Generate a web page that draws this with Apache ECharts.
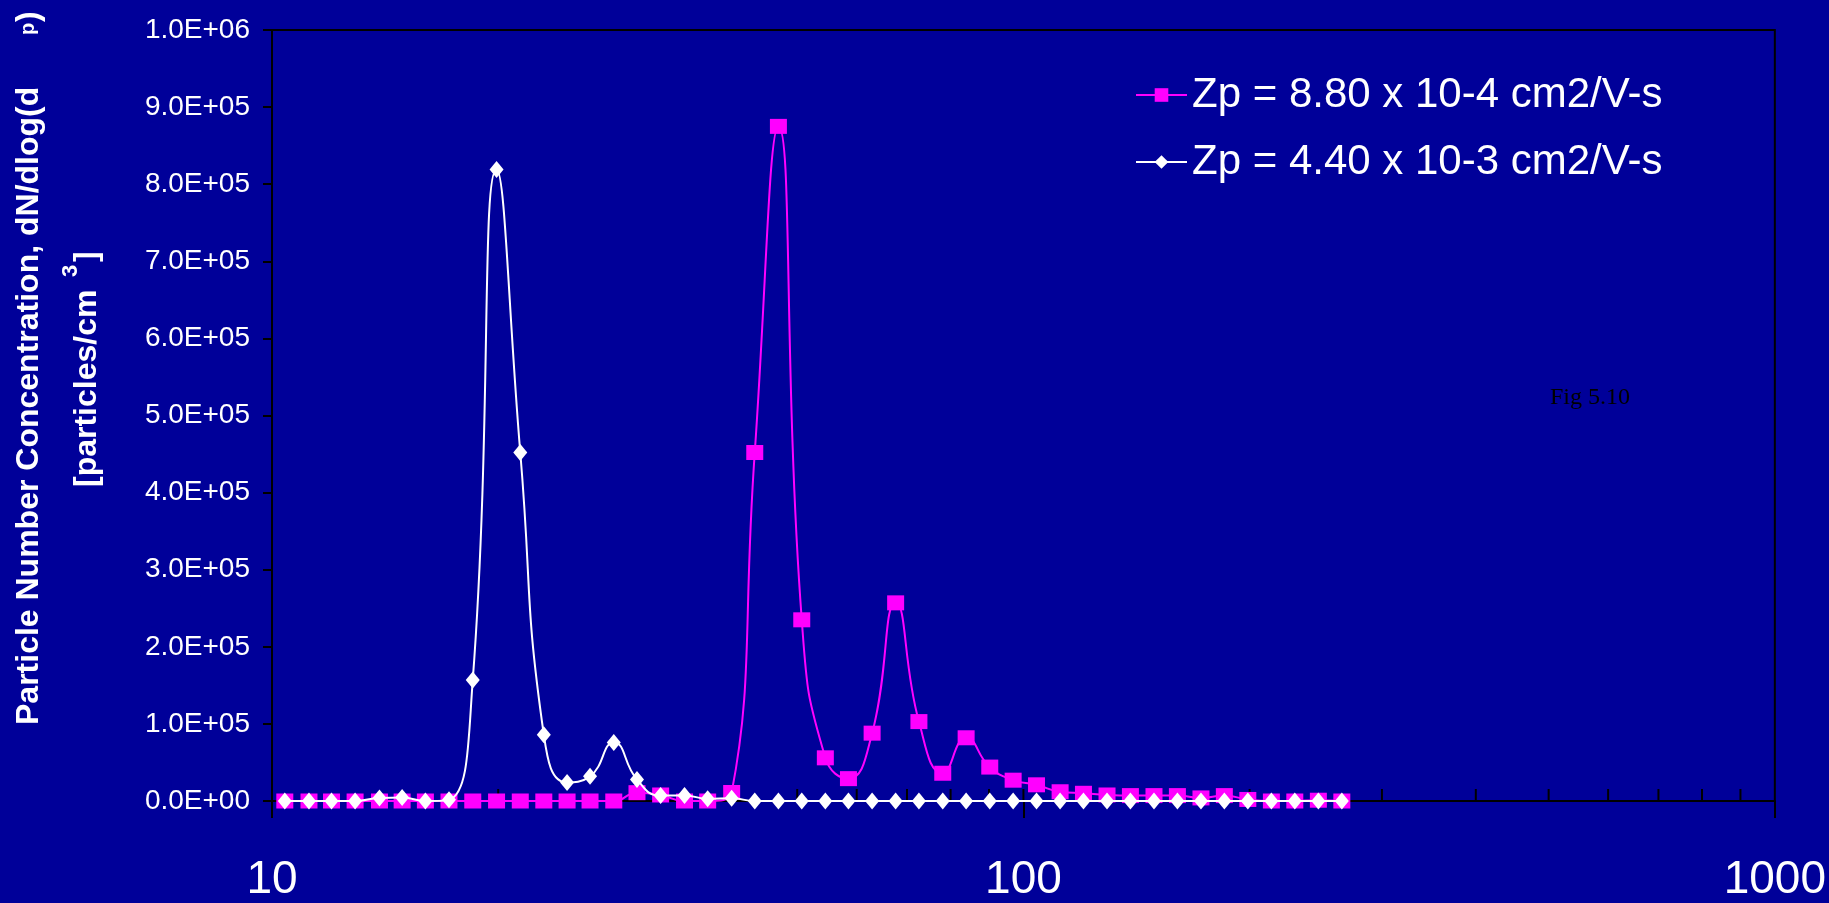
<!DOCTYPE html>
<html><head><meta charset="utf-8">
<script src="https://cdn.jsdelivr.net/npm/echarts@6/dist/echarts.min.js"></script>
<style>html,body{margin:0;padding:0;background:#000099;overflow:hidden;} #c{width:1829px;height:903px;}</style>
</head><body><div id="c"></div>
<script>
// Particle diameter (nm), log-spaced channels
const diameters = [10.4, 11.2, 12.0, 12.9, 13.9, 14.9, 16.0, 17.2, 18.5, 19.9,
  21.4, 23.0, 24.7, 26.5, 28.5, 30.6, 32.9, 35.4, 38.0, 40.9,
  43.9, 47.2, 50.7, 54.5, 58.5, 62.9, 67.6, 72.6, 78.1, 83.9,
  90.2, 96.9, 104.1, 111.9, 120.2, 129.2, 138.8, 149.2, 160.3, 172.3,
  185.1, 198.9, 213.8, 229.7, 246.9, 265.3];
// dN/dlog(dp) for Zp = 8.80 x 10-4 cm2/V-s (magenta squares)
const zpLow = [0, 0, 0, 0, 0, 0, 0, 0, 0, 0,
  0, 0, 0, 0, 0, 10800, 7800, 0, 0, 11000,
  452000, 875000, 235000, 56000, 29000, 88000, 257000, 103000, 36000, 82000,
  44000, 27000, 21000, 12000, 10000, 7800, 7000, 7000, 7000, 4000,
  7000, 2000, 0, 0, 1000, 0];
// dN/dlog(dp) for Zp = 4.40 x 10-3 cm2/V-s (white diamonds)
const zpHigh = [0, 0, 0, 0, 4000, 4500, 0, 1500, 157000, 819000,
  452000, 86000, 24000, 32000, 76000, 28000, 7000, 7000, 3000, 3500,
  0, 0, 0, 0, 0, 0, 0, 0, 0, 0,
  0, 0, 0, 0, 0, 0, 0, 0, 0, 0,
  0, 0, 0, 0, 0, 0];
const seriesNames = ['Zp = 8.80 x 10-4 cm2/V-s', 'Zp = 4.40 x 10-3 cm2/V-s'];
// inner (upward) ticks on the log x axis
const innerTicks = [20, 30, 40, 50, 60, 70, 80, 90, 100, 200, 300, 400, 500, 600, 700, 800, 900];

const FONT = 'Arial, "Liberation Sans", sans-serif';
function fmtE(v) {
  if (Math.abs(v) < 1e-6) return '0.0E+00';
  const e = Math.floor(Math.log10(v) + 1e-9);
  const m = v / Math.pow(10, e);
  return m.toFixed(1) + 'E+' + String(e).padStart(2, '0');
}

const chart = echarts.init(document.getElementById('c'));
chart.setOption({
  backgroundColor: '#000099',
  animation: false,
  grid: { left: 272, right: 54, top: 30, bottom: 102, show: true, borderColor: '#000', borderWidth: 2, backgroundColor: 'transparent' },
  legend: {
    orient: 'vertical', left: 1130, top: 66, itemWidth: 51, itemHeight: 17, itemGap: 19,
    data: seriesNames,
    textStyle: { color: '#fff', fontSize: 42, fontFamily: FONT, lineHeight: 48 }
  },
  xAxis: {
    type: 'log', logBase: 10, min: 10, max: 1000,
    axisLine: { show: true, lineStyle: { color: '#000', width: 2 } },
    axisTick: { show: true, inside: false, length: 17, lineStyle: { color: '#000', width: 2 } },
    axisLabel: { color: '#fff', fontSize: 46, fontFamily: FONT, margin: 56, formatter: v => String(Math.round(v)) },
    splitLine: { show: false }, minorTick: { show: false }
  },
  yAxis: {
    type: 'value', min: 0, max: 1000000, interval: 100000,
    axisLine: { show: true, lineStyle: { color: '#000', width: 2 } },
    axisTick: { show: true, inside: false, length: 9, lineStyle: { color: '#000', width: 2 } },
    axisLabel: { color: '#fff', fontSize: 28, fontFamily: FONT, margin: 22, formatter: fmtE },
    splitLine: { show: false }
  },
  graphic: [
    { type: 'text', x: 29, y: 725, rotation: Math.PI / 2, style: { text: 'Particle Number Concentration, dN/dlog(d', font: 'bold 32px ' + FONT, fill: '#fff', align: 'left', verticalAlign: 'middle' } },
    { type: 'text', x: 28, y: 35, rotation: Math.PI / 2, style: { text: 'p', font: 'bold 20px ' + FONT, fill: '#fff', align: 'left', verticalAlign: 'middle' } },
    { type: 'text', x: 29, y: 22, rotation: Math.PI / 2, style: { text: ')', font: 'bold 32px ' + FONT, fill: '#fff', align: 'left', verticalAlign: 'middle' } },
    { type: 'text', x: 87, y: 487, rotation: Math.PI / 2, style: { text: '[particles/cm', font: 'bold 32px ' + FONT, fill: '#fff', align: 'left', verticalAlign: 'middle' } },
    { type: 'text', x: 71, y: 277, rotation: Math.PI / 2, style: { text: '3', font: 'bold 22px ' + FONT, fill: '#fff', align: 'left', verticalAlign: 'middle' } },
    { type: 'text', x: 87, y: 262, rotation: Math.PI / 2, style: { text: ']', font: 'bold 32px ' + FONT, fill: '#fff', align: 'left', verticalAlign: 'middle' } },
    { type: 'text', x: 1550, y: 398, style: { text: 'Fig 5.10', font: '24px "Liberation Serif", "Times New Roman", serif', fill: '#000', align: 'left', verticalAlign: 'middle' } }
  ],
  series: [
    {
      type: 'custom', silent: true, z: 1, clip: false,
      data: innerTicks.map(v => [v, 0]),
      renderItem: (params, api) => {
        const p = api.coord([api.value(0), 0]);
        return { type: 'line', shape: { x1: p[0], y1: p[1], x2: p[0], y2: p[1] - 12 }, style: { stroke: '#000', lineWidth: 2 } };
      }
    },
    {
      name: seriesNames[0], type: 'line', z: 3, clip: false, smooth: 0.5,
      data: diameters.map((d, i) => [d, zpLow[i]]),
      symbol: 'rect', symbolSize: [17, 15],
      lineStyle: { color: '#ff00ff', width: 2 },
      itemStyle: { color: '#ff00ff' }
    },
    {
      name: seriesNames[1], type: 'line', z: 4, clip: false, smooth: 0.5,
      data: diameters.map((d, i) => [d, zpHigh[i]]),
      symbol: 'diamond', symbolSize: [14, 17],
      lineStyle: { color: '#ffffff', width: 2 },
      itemStyle: { color: '#ffffff' }
    }
  ]
});
</script>
</body></html>
